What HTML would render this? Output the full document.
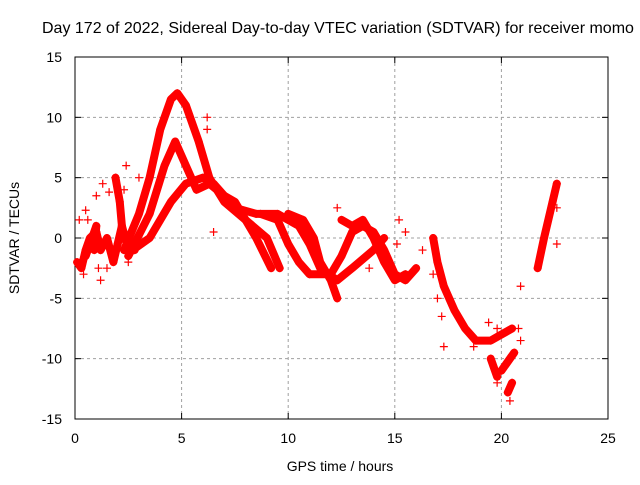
<!DOCTYPE html>
<html><head><meta charset="utf-8"><style>
body{margin:0;background:#fff;}
svg text{font-family:"Liberation Sans",sans-serif;font-size:14px;fill:#000;}
</style></head><body>
<svg id="chart" width="640" height="480" viewBox="0 0 640 480" xmlns="http://www.w3.org/2000/svg">
<rect width="640" height="480" fill="#fff"/>
<text x="42" y="33" style="font-size:16px">Day 172 of 2022, Sidereal Day-to-day VTEC variation (SDTVAR) for receiver momo</text>
<g id="grid"></g><g id="axes"></g><g id="marks"></g>
<text x="340" y="471" text-anchor="middle">GPS time / hours</text>
<text transform="translate(19,238) rotate(-90)" text-anchor="middle">SDTVAR / TECUs</text>
</svg>
<script>
const xTicks=[0,5,10,15,20,25];
const yTicks=[15,10,5,0,-5,-10,-15];
const trackA=[[2.3,-1],[3,2],[3.5,5],[4,9],[4.5,11.5],[4.8,12],[5.2,11],[5.8,8],[6.3,5],[7,3],[8,1.5],[9,0],[9.6,-2.5]];
const trackB=[[2.5,-1.5],[3.5,2],[4.2,6],[4.7,8],[5.2,6],[5.7,4],[6.3,4.5],[7,3.5],[7.5,3],[8.5,0],[9.2,-2.5]];
const trackC=[[2.7,-1],[3.5,0],[4.5,3],[5.2,4.5],[6,5],[6.5,4.5],[7.5,2.5],[8.5,2],[9.5,2],[10.5,1],[11,-0.5],[11.5,-2.5],[12.3,-3.5],[13,-2.5],[14,-1],[14.5,0]];
const trackD=[[8.7,2],[9.5,1.5],[10,-0.5],[10.5,-2],[11,-3],[12,-3],[12.5,-1.5],[13,0.5],[13.5,1],[14,0.5],[14.5,-1],[15,-3],[15.5,-3.5],[16,-2.5]];
const trackE=[[10,2],[10.7,1.5],[11.2,0],[11.5,-2],[12,-3.5],[12.3,-5]];
const trackF=[[12.5,1.5],[13,1],[13.5,1.5],[14,0],[14.5,-2],[15,-3.5],[15.5,-3]];
const trackG=[[0.1,-2],[0.3,-2.5],[0.5,-1],[0.7,0],[1,0.5],[1.2,-1],[1.5,0],[1.8,-2],[2,-0.5],[2.2,1],[2.5,-1],[2.8,-1]];
const trackH=[[16.8,0],[17,-2],[17.3,-4],[17.8,-6],[18.3,-7.5],[18.8,-8.5],[19.5,-8.5],[20,-8],[20.5,-7.5]];
const trackI=[[19.5,-10],[19.8,-11.5]];
const trackJ=[[20,-11],[20.6,-9.5]];
const trackK=[[20.3,-12.8],[20.5,-12]];
const trackL=[[21.7,-2.5],[22,0],[22.4,3],[22.6,4.5]];
const trackM=[[1.9,5],[2.1,3],[2.2,1]];
const trackN=[[0.9,-1],[1,1],[0.5,-1.5]];
const scatterPts=[[20.9,-4],[20.8,-7.5],[20.9,-8.5],[22.6,-0.5],[22.6,2.5],[6.2,10],[6.2,9],[1,3.5],[1.3,4.5],[3,5],[2.4,6],[2.3,4],[1.6,3.8],[0.5,2.3],[6.5,0.5],[15.5,0.5],[15.2,1.5],[12.3,2.5],[0.4,-3],[1.1,-2.5],[1.2,-3.5],[1.5,-2.5],[2.5,-2],[0.2,1.5],[0.6,1.5],[16.3,-1],[16.8,-3],[17,-5],[17.2,-6.5],[17.3,-9],[19.4,-7],[19.8,-7.5],[20.4,-13.5],[19.8,-12],[18.7,-9],[15.1,-0.5],[13.8,-2.5]];
const tracks=[trackA,trackB,trackC,trackD,trackE,trackF,trackG,trackH,trackI,trackJ,trackK,trackL,trackM,trackN];
const X=t=>75+t*(533/25), Y=v=>238-v*(362/30);
const ns="http://www.w3.org/2000/svg";
function mk(tag,attrs,parent){const e=document.createElementNS(ns,tag);for(const k in attrs)e.setAttribute(k,attrs[k]);parent.appendChild(e);return e;}
const grid=document.getElementById('grid'),axes=document.getElementById('axes'),marks=document.getElementById('marks');
xTicks.forEach(t=>{
 if(t>0&&t<25){const l=mk('line',{x1:X(t),x2:X(t),y1:57,y2:419,stroke:'#a0a0a0','stroke-dasharray':'3,3'},grid);
 
 }
 const tx=mk('text',{x:X(t),y:443,'text-anchor':'middle'},axes);tx.textContent=t;
 
 
 mk('line',{x1:X(t),x2:X(t),y1:419,y2:413,stroke:'#000'},axes);
 mk('line',{x1:X(t),x2:X(t),y1:57,y2:63,stroke:'#000'},axes);
});
yTicks.forEach(v=>{
 if(v>-15&&v<15){const l=mk('line',{x1:75,x2:608,y1:Y(v),y2:Y(v),stroke:'#a0a0a0','stroke-dasharray':'3,3'},grid);
 
 }
 const tx=mk('text',{x:62,y:Y(v)+5,'text-anchor':'end'},axes);tx.textContent=v;
 
 
 mk('line',{x1:75,x2:81,y1:Y(v),y2:Y(v),stroke:'#000'},axes);
 mk('line',{x1:608,x2:602,y1:Y(v),y2:Y(v),stroke:'#000'},axes);
});
const frame=mk('rect',{x:75,y:57,width:533,height:362,fill:'none',stroke:'#000'},axes);


function plus(t,v){const p=mk('path',{d:`M${X(t)-4},${Y(v)}h8M${X(t)},${Y(v)-4}v8`,stroke:'#f00','stroke-width':1.2},marks);
 
 }
tracks.forEach(tr=>{
 const pl=mk('polyline',{points:tr.map(p=>X(p[0])+','+Y(p[1])).join(' '),fill:'none',stroke:'#f00','stroke-width':8,'stroke-linejoin':'round','stroke-linecap':'round'},marks);
 
 
 tr.forEach(p=>plus(p[0],p[1]));
});
scatterPts.forEach(p=>plus(p[0],p[1]));
</script>
</body></html>
